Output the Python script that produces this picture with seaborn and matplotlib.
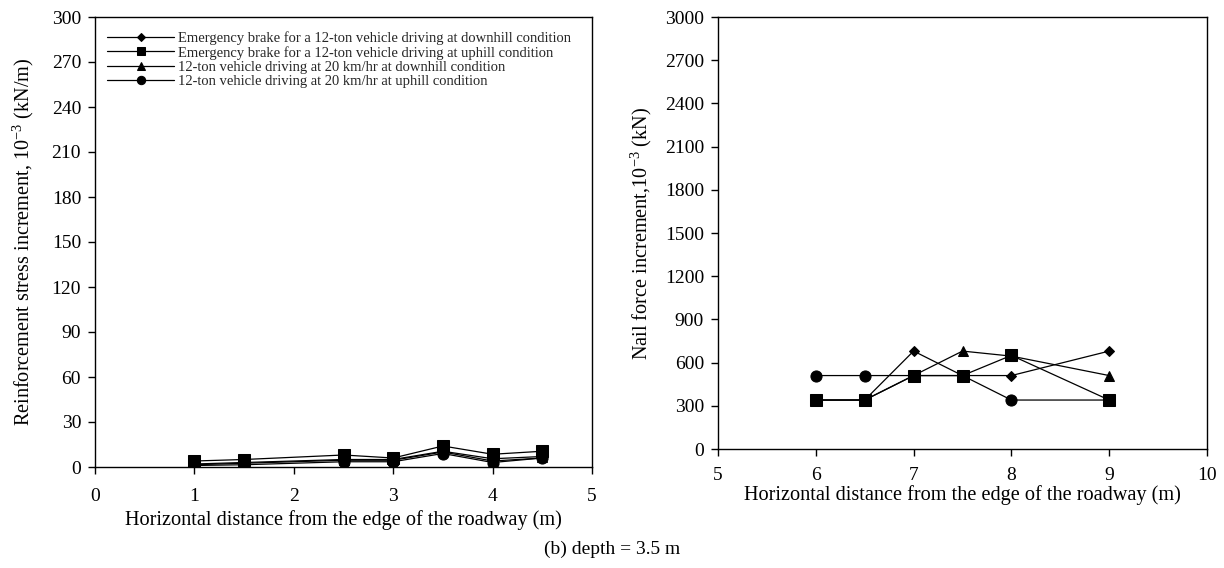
import matplotlib
matplotlib.use("Agg")
import matplotlib.pyplot as plt
import seaborn as sns
import pandas as pd

sns.set_theme(style="white")
plt.rcParams['font.family'] = ['Liberation Serif', 'DejaVu Serif']
plt.rcParams['mathtext.fontset'] = 'custom'
plt.rcParams['mathtext.rm'] = 'Liberation Serif'

labels = [
    "Emergency brake for a 12-ton vehicle driving at downhill condition",
    "Emergency brake for a 12-ton vehicle driving at uphill condition",
    "12-ton vehicle driving at 20 km/hr at downhill condition",
    "12-ton vehicle driving at 20 km/hr at uphill condition",
]
markers = ["D", "s", "^", "o"]
msizes = [5, 8, 7, 8]

# left panel: reinforcement stress increment
x_left = [1, 1.5, 2.5, 3, 3.5, 4, 4.5]
left_diamond = [1.5, 2.5, 4.5, 4.5, 10, 4, 6]
left_square = [4, 5, 8, 6, 14, 8.5, 10.5]
left_triangle = [2, 3, 5, 5, 10.5, 5.5, 7]
left_circle = [1, 1.5, 3.5, 3.5, 9, 3, 6]

# right panel: nail force increment
x_right = [6, 6.5, 7, 7.5, 8, 9]
right_diamond = [340, 340, 680, 510, 510, 680]
right_square = [340, 340, 510, 510, 650, 340]
right_triangle = [340, 340, 510, 680, 645, 510]
right_circle = [510, 510, 510, 510, 340, 340]

left_series = [left_diamond, left_square, left_triangle, left_circle]
right_series = [right_diamond, right_square, right_triangle, right_circle]

W, H = 1224, 568
fig = plt.figure(figsize=(W / 100, H / 100), dpi=100)
axL = fig.add_axes([95 / W, 1 - 467 / H, (592 - 95) / W, (467 - 17) / H])
axR = fig.add_axes([718 / W, 1 - 449 / H, (1207 - 718) / W, (449 - 17) / H])

draw_order = [3, 2, 0, 1]
for ax, xs, series in [(axL, x_left, left_series), (axR, x_right, right_series)]:
    for i in draw_order:
        df = pd.DataFrame({"x": xs, "y": series[i]})
        sns.lineplot(data=df, x="x", y="y", ax=ax, color="black", linewidth=0.9,
                     marker=markers[i], markersize=msizes[i], markeredgecolor="black",
                     markerfacecolor="black", label=labels[i], legend=False)
    for sp in ax.spines.values():
        sp.set_color("black")
        sp.set_linewidth(1.0)
    ax.tick_params(axis="both", which="major", direction="out", length=5, width=1,
                   color="black", labelsize=14, labelcolor="black",
                   bottom=True, left=True, top=False, right=False)
    ax.tick_params(axis="y", pad=5)
    ax.set_xlabel("")
    ax.set_ylabel("")

axL.tick_params(axis="x", pad=10)
axR.tick_params(axis="x", pad=8)

axL.set_xlim(0, 5)
axL.set_ylim(0, 300)
axL.set_xticks(range(0, 6))
axL.set_yticks(range(0, 301, 30))
axL.set_xlabel("Horizontal distance from the edge of the roadway (m)", fontsize=14.6,
               color="black", labelpad=4)
axL.set_ylabel("Reinforcement stress increment, 10$^{-3}$ (kN/m)", fontsize=14.6,
               color="black", labelpad=11)

axR.set_xlim(5, 10)
axR.set_ylim(0, 3000)
axR.set_xticks(range(5, 11))
axR.set_yticks(range(0, 3001, 300))
axR.set_xlabel("Horizontal distance from the edge of the roadway (m)", fontsize=14.6,
               color="black", labelpad=1)
axR.set_ylabel("Nail force increment,10$^{-3}$ (kN)", fontsize=14.6,
               color="black", labelpad=8)

handles, labs = axL.get_legend_handles_labels()
order = [labs.index(l) for l in labels]
leg = axL.legend([handles[k] for k in order], [labs[k] for k in order],
                 loc="upper left", bbox_to_anchor=(12 / 497, 1 - 14 / 450),
                 borderaxespad=0, fontsize=10.5, handlelength=4.6, labelspacing=0.07,
                 frameon=False, borderpad=0, handletextpad=0.3, markerscale=0.75)

fig.text(0.5, 1 - 549 / H, "(b) depth = 3.5 m", ha="center", va="center",
         fontsize=14, color="black")

fig.savefig("out.png", dpi=100, facecolor="white")
